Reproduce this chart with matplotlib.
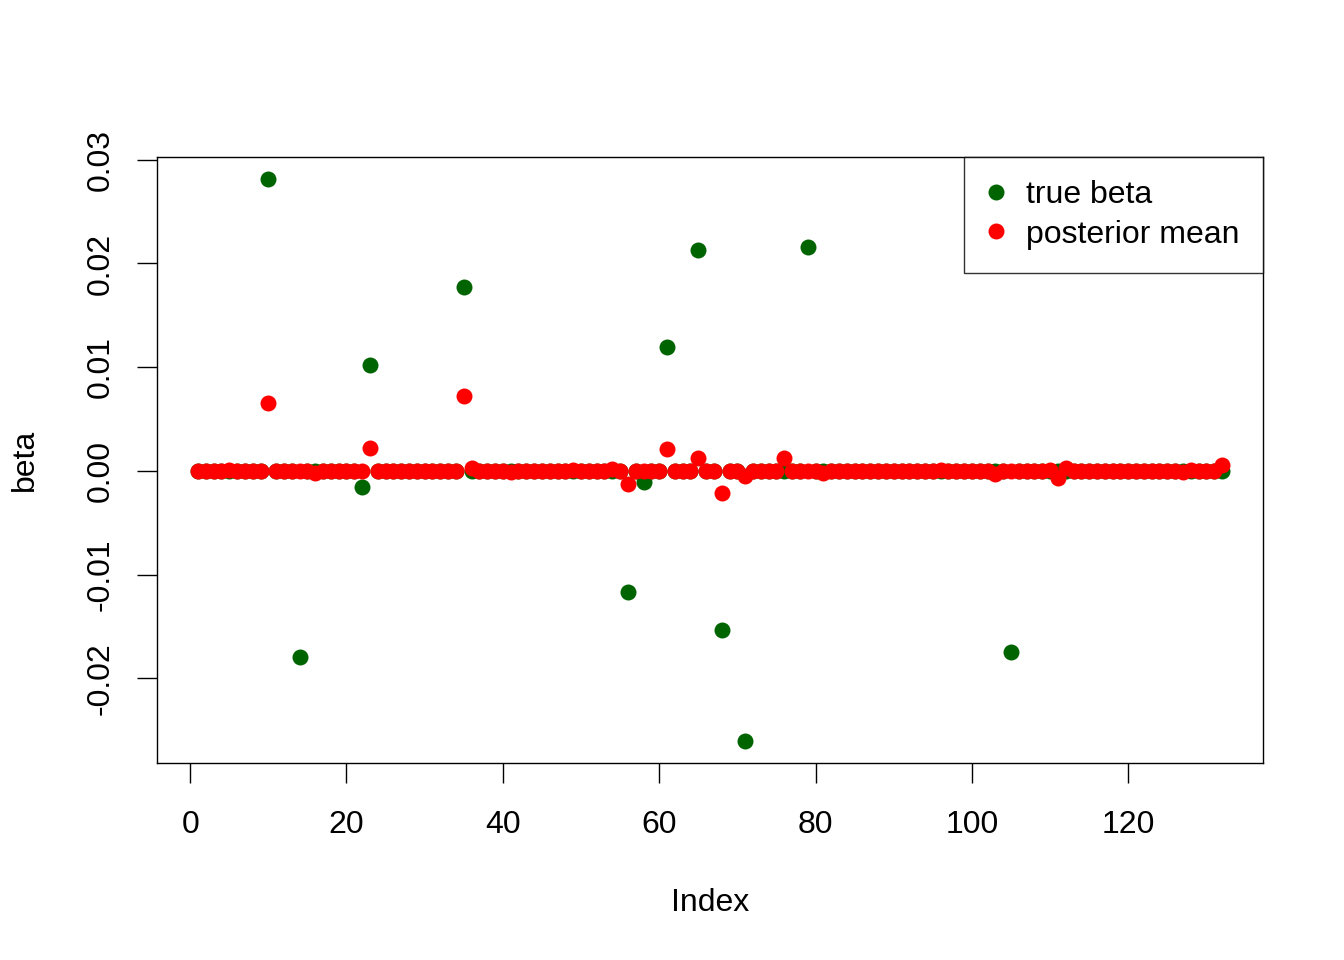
import numpy as np
import matplotlib
matplotlib.use("Agg")
import matplotlib.pyplot as plt
from matplotlib.lines import Line2D

plt.rcParams['font.family'] = ['Liberation Sans', 'DejaVu Sans']

true_beta = [
    0, 0, 0, 0, 0, 0, 0, 0, 0, 0.0281, 0, 0,
    0, -0.0179, 0, 0, 0, 0, 0, 0, 0, -0.0016, 0.0102, 0,
    0, 0, 0, 0, 0, 0, 0, 0, 0, 0, 0.0177, 0,
    0, 0, 0, 0, 0, 0, 0, 0, 0, 0, 0, 0,
    0, 0, 0, 0, 0, 0, 0, -0.0117, 0, -0.0011, 0, 0,
    0.0119, 0, 0, 0, 0.0213, 0, 0, -0.0153, 0, 0, -0.0260, 0,
    0, 0, 0, 0, 0, 0, 0.0216, 0, 0, 0, 0, 0,
    0, 0, 0, 0, 0, 0, 0, 0, 0, 0, 0, 0,
    0, 0, 0, 0, 0, 0, 0, 0, -0.0175, 0, 0, 0,
    0, 0, 0, 0, 0, 0, 0, 0, 0, 0, 0, 0,
    0, 0, 0, 0, 0, 0, 0, 0, 0, 0, 0, 0,
]

posterior_mean = [
    0, 0, 0, 0, 0.0001, 0, 0, 0, 0, 0.0065, 0, 0,
    0, 0, 0, -0.0002, 0, 0, 0, 0, 0, 0, 0.0022, 0,
    0, 0, 0, 0, 0, 0, 0, 0, 0, 0, 0.0072, 0.0003,
    0, 0, 0, 0, -0.0001, 0, 0, 0, 0, 0, 0, 0,
    0.0001, 0, 0, 0, 0, 0.0002, 0, -0.0013, 0, 0, 0, 0,
    0.0021, 0, 0, 0, 0.0012, 0, 0, -0.0021, 0, 0, -0.0005, 0,
    0, 0, 0, 0.0012, 0, 0, 0, 0, -0.0002, 0, 0, 0,
    0, 0, 0, 0, 0, 0, 0, 0, 0, 0, 0, 0.0001,
    0, 0, 0, 0, 0, 0, -0.0003, 0, 0, 0, 0, 0,
    0, 0.0001, -0.0007, 0.0003, 0, 0, 0, 0, 0, 0, 0, 0,
    0, 0, 0, 0, 0, 0, -0.0001, 0.0001, 0, 0, 0, 0.0006,
]

index = np.arange(1, len(true_beta) + 1)
x_ticks = [0, 20, 40, 60, 80, 100, 120]
y_ticks = [-0.02, -0.01, 0.00, 0.01, 0.02, 0.03]
y_tick_labels = ["-0.02", "-0.01", "0.00", "0.01", "0.02", "0.03"]
legend_labels = ["true beta", "posterior mean"]
colors = ["#006400", "#FF0000"]

FS = 23

fig = plt.figure(figsize=(13.44, 9.6), dpi=100)
ax = fig.add_axes([157/1344, 1 - 763/960, (1263-157)/1344, (763-157)/960])

ms = 11.5
ax.plot(index, true_beta, 'o', color=colors[0], markersize=ms, markeredgewidth=0, clip_on=False)
ax.plot(index, posterior_mean, 'o', color=colors[1], markersize=ms, markeredgewidth=0, clip_on=False)

allv = np.array(true_beta + posterior_mean)
ymin, ymax = allv.min(), allv.max()
yr = ymax - ymin
ax.set_ylim(ymin - 0.04 * yr, ymax + 0.04 * yr)
xr = index.max() - index.min()
ax.set_xlim(index.min() - 0.04 * xr, index.max() + 0.04 * xr)

ax.set_xticks(x_ticks)
ax.set_xticklabels([str(t) for t in x_ticks])
ax.set_yticks(y_ticks)
ax.set_yticklabels(y_tick_labels, rotation=90, va='center')

ax.tick_params(axis='both', direction='out', length=14.5, width=1.0, labelsize=FS, color='black')
ax.tick_params(axis='x', pad=19)
ax.tick_params(axis='y', pad=15)
for s in ax.spines.values():
    s.set_linewidth(1.0)

ax.set_xlabel("Index", fontsize=FS, labelpad=35)
ax.set_ylabel("beta", fontsize=FS, labelpad=33)

handles = [Line2D([], [], marker='o', linestyle='none', color=c, markersize=ms, markeredgewidth=0) for c in colors]
leg = ax.legend(handles, legend_labels, loc='upper right', fontsize=FS, frameon=True,
                fancybox=False, borderaxespad=0, handletextpad=0.65, handlelength=0.6,
                borderpad=0.72, labelspacing=0.3)
leg.get_frame().set_edgecolor('black')
leg.get_frame().set_linewidth(1.0)

fig.savefig("out.png", dpi=100)
